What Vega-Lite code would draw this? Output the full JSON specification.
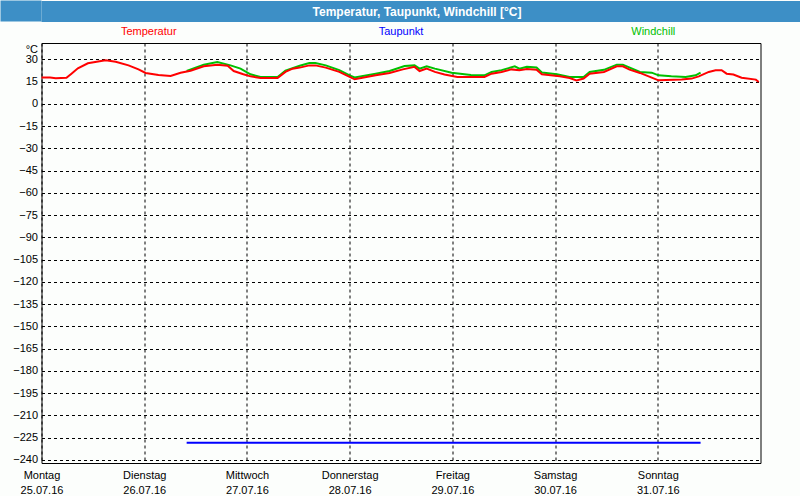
{
  "$schema": "https://vega.github.io/schema/vega-lite/v6.json",
  "background": "#fcfefc",
  "padding": {"left": -10.5, "top": 0, "right": 0, "bottom": 0},
  "spacing": 0,
  "config": {"font": "Liberation Sans", "view": {"stroke": null}},
  "datasets": {
    "messwerte": [
      {"zeit": "2016-07-26T09:55", "reihe": "Windchill", "wert": 22.3},
      {"zeit": "2016-07-26T13:55", "reihe": "Windchill", "wert": 26.5},
      {"zeit": "2016-07-26T17:05", "reihe": "Windchill", "wert": 28.3},
      {"zeit": "2016-07-26T20:10", "reihe": "Windchill", "wert": 26.0},
      {"zeit": "2016-07-26T22:30", "reihe": "Windchill", "wert": 23.8},
      {"zeit": "2016-07-27T00:50", "reihe": "Windchill", "wert": 20.0},
      {"zeit": "2016-07-27T03:10", "reihe": "Windchill", "wert": 18.2},
      {"zeit": "2016-07-27T07:10", "reihe": "Windchill", "wert": 18.2},
      {"zeit": "2016-07-27T09:00", "reihe": "Windchill", "wert": 22.5},
      {"zeit": "2016-07-27T12:20", "reihe": "Windchill", "wert": 25.8},
      {"zeit": "2016-07-27T14:35", "reihe": "Windchill", "wert": 27.6},
      {"zeit": "2016-07-27T16:00", "reihe": "Windchill", "wert": 27.6},
      {"zeit": "2016-07-27T18:25", "reihe": "Windchill", "wert": 26.0},
      {"zeit": "2016-07-27T21:35", "reihe": "Windchill", "wert": 22.8},
      {"zeit": "2016-07-28T00:00", "reihe": "Windchill", "wert": 19.2},
      {"zeit": "2016-07-28T01:10", "reihe": "Windchill", "wert": 17.8},
      {"zeit": "2016-07-28T06:05", "reihe": "Windchill", "wert": 20.4},
      {"zeit": "2016-07-28T09:20", "reihe": "Windchill", "wert": 22.2},
      {"zeit": "2016-07-28T12:50", "reihe": "Windchill", "wert": 25.6},
      {"zeit": "2016-07-28T15:10", "reihe": "Windchill", "wert": 26.0},
      {"zeit": "2016-07-28T16:20", "reihe": "Windchill", "wert": 23.8},
      {"zeit": "2016-07-28T18:00", "reihe": "Windchill", "wert": 25.4},
      {"zeit": "2016-07-28T19:55", "reihe": "Windchill", "wert": 23.8},
      {"zeit": "2016-07-28T23:50", "reihe": "Windchill", "wert": 21.1},
      {"zeit": "2016-07-29T04:20", "reihe": "Windchill", "wert": 19.5},
      {"zeit": "2016-07-29T07:30", "reihe": "Windchill", "wert": 19.3},
      {"zeit": "2016-07-29T09:10", "reihe": "Windchill", "wert": 21.6},
      {"zeit": "2016-07-29T11:30", "reihe": "Windchill", "wert": 22.8},
      {"zeit": "2016-07-29T14:35", "reihe": "Windchill", "wert": 25.4},
      {"zeit": "2016-07-29T15:40", "reihe": "Windchill", "wert": 23.8},
      {"zeit": "2016-07-29T17:25", "reihe": "Windchill", "wert": 25.0},
      {"zeit": "2016-07-29T19:40", "reihe": "Windchill", "wert": 24.6},
      {"zeit": "2016-07-29T20:55", "reihe": "Windchill", "wert": 21.2},
      {"zeit": "2016-07-30T00:25", "reihe": "Windchill", "wert": 20.0},
      {"zeit": "2016-07-30T03:25", "reihe": "Windchill", "wert": 18.2},
      {"zeit": "2016-07-30T06:40", "reihe": "Windchill", "wert": 18.2},
      {"zeit": "2016-07-30T08:05", "reihe": "Windchill", "wert": 21.6},
      {"zeit": "2016-07-30T11:25", "reihe": "Windchill", "wert": 23.0},
      {"zeit": "2016-07-30T14:25", "reihe": "Windchill", "wert": 26.5},
      {"zeit": "2016-07-30T15:50", "reihe": "Windchill", "wert": 26.5},
      {"zeit": "2016-07-30T19:50", "reihe": "Windchill", "wert": 21.6},
      {"zeit": "2016-07-30T22:35", "reihe": "Windchill", "wert": 21.1},
      {"zeit": "2016-07-31T00:10", "reihe": "Windchill", "wert": 19.3},
      {"zeit": "2016-07-31T03:10", "reihe": "Windchill", "wert": 18.6},
      {"zeit": "2016-07-31T06:30", "reihe": "Windchill", "wert": 18.2},
      {"zeit": "2016-07-31T08:50", "reihe": "Windchill", "wert": 19.3},
      {"zeit": "2016-07-31T10:00", "reihe": "Windchill", "wert": 21.1},
      {"zeit": "2016-07-26T09:55", "reihe": "Taupunkt", "wert": -228.6},
      {"zeit": "2016-07-27T00:00", "reihe": "Taupunkt", "wert": -228.6},
      {"zeit": "2016-07-28T00:00", "reihe": "Taupunkt", "wert": -228.6},
      {"zeit": "2016-07-29T00:00", "reihe": "Taupunkt", "wert": -228.6},
      {"zeit": "2016-07-30T00:00", "reihe": "Taupunkt", "wert": -228.6},
      {"zeit": "2016-07-31T00:00", "reihe": "Taupunkt", "wert": -228.6},
      {"zeit": "2016-07-31T10:00", "reihe": "Taupunkt", "wert": -228.6},
      {"zeit": "2016-07-25T00:00", "reihe": "Temperatur", "wert": 17.9},
      {"zeit": "2016-07-25T02:00", "reihe": "Temperatur", "wert": 17.8},
      {"zeit": "2016-07-25T03:20", "reihe": "Temperatur", "wert": 17.4},
      {"zeit": "2016-07-25T05:50", "reihe": "Temperatur", "wert": 17.6},
      {"zeit": "2016-07-25T07:00", "reihe": "Temperatur", "wert": 20.4},
      {"zeit": "2016-07-25T08:30", "reihe": "Temperatur", "wert": 24.0},
      {"zeit": "2016-07-25T10:50", "reihe": "Temperatur", "wert": 27.4},
      {"zeit": "2016-07-25T13:55", "reihe": "Temperatur", "wert": 29.0},
      {"zeit": "2016-07-25T15:00", "reihe": "Temperatur", "wert": 29.4},
      {"zeit": "2016-07-25T17:20", "reihe": "Temperatur", "wert": 28.5},
      {"zeit": "2016-07-25T20:20", "reihe": "Temperatur", "wert": 26.0},
      {"zeit": "2016-07-25T22:40", "reihe": "Temperatur", "wert": 23.3},
      {"zeit": "2016-07-26T00:20", "reihe": "Temperatur", "wert": 20.9},
      {"zeit": "2016-07-26T03:20", "reihe": "Temperatur", "wert": 19.5},
      {"zeit": "2016-07-26T06:10", "reihe": "Temperatur", "wert": 18.8},
      {"zeit": "2016-07-26T08:30", "reihe": "Temperatur", "wert": 21.0},
      {"zeit": "2016-07-26T10:50", "reihe": "Temperatur", "wert": 22.4},
      {"zeit": "2016-07-26T13:55", "reihe": "Temperatur", "wert": 25.4},
      {"zeit": "2016-07-26T17:05", "reihe": "Temperatur", "wert": 26.5},
      {"zeit": "2016-07-26T19:30", "reihe": "Temperatur", "wert": 25.8},
      {"zeit": "2016-07-26T20:55", "reihe": "Temperatur", "wert": 22.2},
      {"zeit": "2016-07-26T23:10", "reihe": "Temperatur", "wert": 20.0},
      {"zeit": "2016-07-27T00:50", "reihe": "Temperatur", "wert": 18.6},
      {"zeit": "2016-07-27T03:10", "reihe": "Temperatur", "wert": 17.5},
      {"zeit": "2016-07-27T07:10", "reihe": "Temperatur", "wert": 17.5},
      {"zeit": "2016-07-27T09:00", "reihe": "Temperatur", "wert": 21.6},
      {"zeit": "2016-07-27T10:40", "reihe": "Temperatur", "wert": 23.8},
      {"zeit": "2016-07-27T12:20", "reihe": "Temperatur", "wert": 24.5},
      {"zeit": "2016-07-27T14:35", "reihe": "Temperatur", "wert": 26.0},
      {"zeit": "2016-07-27T16:00", "reihe": "Temperatur", "wert": 26.0},
      {"zeit": "2016-07-27T18:25", "reihe": "Temperatur", "wert": 24.5},
      {"zeit": "2016-07-27T21:35", "reihe": "Temperatur", "wert": 21.6},
      {"zeit": "2016-07-28T00:00", "reihe": "Temperatur", "wert": 18.2},
      {"zeit": "2016-07-28T01:10", "reihe": "Temperatur", "wert": 16.6},
      {"zeit": "2016-07-28T03:00", "reihe": "Temperatur", "wert": 17.7},
      {"zeit": "2016-07-28T06:05", "reihe": "Temperatur", "wert": 19.3},
      {"zeit": "2016-07-28T09:20", "reihe": "Temperatur", "wert": 20.9},
      {"zeit": "2016-07-28T12:25", "reihe": "Temperatur", "wert": 23.3},
      {"zeit": "2016-07-28T15:10", "reihe": "Temperatur", "wert": 25.0},
      {"zeit": "2016-07-28T16:20", "reihe": "Temperatur", "wert": 22.2},
      {"zeit": "2016-07-28T18:00", "reihe": "Temperatur", "wert": 23.8},
      {"zeit": "2016-07-28T19:55", "reihe": "Temperatur", "wert": 21.6},
      {"zeit": "2016-07-28T22:10", "reihe": "Temperatur", "wert": 19.8},
      {"zeit": "2016-07-29T01:10", "reihe": "Temperatur", "wert": 18.2},
      {"zeit": "2016-07-29T07:30", "reihe": "Temperatur", "wert": 18.2},
      {"zeit": "2016-07-29T09:10", "reihe": "Temperatur", "wert": 20.4},
      {"zeit": "2016-07-29T11:30", "reihe": "Temperatur", "wert": 21.6},
      {"zeit": "2016-07-29T13:50", "reihe": "Temperatur", "wert": 23.3},
      {"zeit": "2016-07-29T15:40", "reihe": "Temperatur", "wert": 22.7},
      {"zeit": "2016-07-29T17:25", "reihe": "Temperatur", "wert": 23.5},
      {"zeit": "2016-07-29T19:40", "reihe": "Temperatur", "wert": 23.1},
      {"zeit": "2016-07-29T20:55", "reihe": "Temperatur", "wert": 20.0},
      {"zeit": "2016-07-30T01:05", "reihe": "Temperatur", "wert": 18.6},
      {"zeit": "2016-07-30T03:25", "reihe": "Temperatur", "wert": 17.5},
      {"zeit": "2016-07-30T05:00", "reihe": "Temperatur", "wert": 15.9},
      {"zeit": "2016-07-30T06:40", "reihe": "Temperatur", "wert": 17.1},
      {"zeit": "2016-07-30T08:05", "reihe": "Temperatur", "wert": 20.4},
      {"zeit": "2016-07-30T11:25", "reihe": "Temperatur", "wert": 21.6},
      {"zeit": "2016-07-30T14:25", "reihe": "Temperatur", "wert": 25.4},
      {"zeit": "2016-07-30T15:50", "reihe": "Temperatur", "wert": 25.4},
      {"zeit": "2016-07-30T17:25", "reihe": "Temperatur", "wert": 23.1},
      {"zeit": "2016-07-30T19:50", "reihe": "Temperatur", "wert": 20.9},
      {"zeit": "2016-07-30T22:35", "reihe": "Temperatur", "wert": 17.7},
      {"zeit": "2016-07-31T00:10", "reihe": "Temperatur", "wert": 15.9},
      {"zeit": "2016-07-31T05:35", "reihe": "Temperatur", "wert": 16.4},
      {"zeit": "2016-07-31T07:55", "reihe": "Temperatur", "wert": 17.1},
      {"zeit": "2016-07-31T09:35", "reihe": "Temperatur", "wert": 18.6},
      {"zeit": "2016-07-31T11:55", "reihe": "Temperatur", "wert": 21.6},
      {"zeit": "2016-07-31T13:30", "reihe": "Temperatur", "wert": 22.7},
      {"zeit": "2016-07-31T14:55", "reihe": "Temperatur", "wert": 22.7},
      {"zeit": "2016-07-31T16:05", "reihe": "Temperatur", "wert": 20.4},
      {"zeit": "2016-07-31T17:40", "reihe": "Temperatur", "wert": 19.8},
      {"zeit": "2016-07-31T19:35", "reihe": "Temperatur", "wert": 17.7},
      {"zeit": "2016-07-31T22:55", "reihe": "Temperatur", "wert": 16.4},
      {"zeit": "2016-07-31T23:35", "reihe": "Temperatur", "wert": 14.8}
    ]
  },
  "vconcat": [
    {
      "width": 759,
      "height": 21,
      "view": {"fill": "#3d8fc6", "stroke": null},
      "data": {"values": [{"titel": "Temperatur, Taupunkt, Windchill [°C]"}]},
      "mark": {"type": "text", "color": "#ffffff", "fontWeight": "bold", "fontSize": 12, "dx": -4},
      "encoding": {
        "text": {"field": "titel"},
        "y": {
          "field": "titel",
          "type": "nominal",
          "scale": {"type": "band", "paddingInner": 0, "paddingOuter": 0},
          "axis": {"title": null, "labels": false, "domain": false, "grid": false, "translate": 0, "ticks": true, "tickRound": false, "tickBand": "center", "tickSize": 41, "tickWidth": 21, "tickColor": "#3d8fc6", "tickCap": "butt", "tickOpacity": 1}
        }
      }
    },
    {
      "width": 719,
      "height": 20,
      "view": {"stroke": null},
      "data": {"values": [{"reihe": "Temperatur"}, {"reihe": "Taupunkt"}, {"reihe": "Windchill"}]},
      "mark": {"type": "text", "fontSize": 11},
      "encoding": {
        "x": {"field": "reihe", "type": "nominal", "sort": null, "scale": {"type": "point", "padding": 0.425}, "axis": null},
        "text": {"field": "reihe"},
        "color": {
          "field": "reihe",
          "type": "nominal",
          "scale": {"domain": ["Temperatur", "Taupunkt", "Windchill"], "range": ["#ff0000", "#0000ff", "#00c000"]},
          "legend": null
        }
      }
    },
    {
      "width": 719,
      "height": 420,
      "view": {"stroke": "#000000", "strokeWidth": 1},
      "data": {"name": "messwerte"},
      "mark": {"type": "line", "strokeWidth": 2},
      "encoding": {
        "x": {
          "field": "zeit",
          "type": "temporal",
          "scale": {"domain": [{"year": 2016, "month": 7, "date": 25}, {"year": 2016, "month": 8, "date": 1}], "nice": false},
          "axis": {
            "title": null,
            "values": [
              {"year": 2016, "month": 7, "date": 25},
              {"year": 2016, "month": 7, "date": 26},
              {"year": 2016, "month": 7, "date": 27},
              {"year": 2016, "month": 7, "date": 28},
              {"year": 2016, "month": 7, "date": 29},
              {"year": 2016, "month": 7, "date": 30},
              {"year": 2016, "month": 7, "date": 31}
            ],
            "labelExpr": "[['Sonntag','Montag','Dienstag','Mittwoch','Donnerstag','Freitag','Samstag'][day(datum.value)], timeFormat(datum.value, '%d.%m.%y')]",
            "labelAlign": "center",
            "labelBaseline": "top",
            "labelFlush": false,
            "labelOverlap": false,
            "labelPadding": 6,
            "labelLineHeight": 15,
            "labelFontSize": 11,
            "labelColor": "#000000",
            "ticks": false,
            "domain": false,
            "grid": true,
            "gridColor": "#000000",
            "gridDash": [3, 3],
            "gridOpacity": 1
          }
        },
        "y": {
          "field": "wert",
          "type": "quantitative",
          "scale": {"domain": [-242.2, 41.1], "nice": false, "zero": false},
          "axis": {
            "values": [-240, -225, -210, -195, -180, -165, -150, -135, -120, -105, -90, -75, -60, -45, -30, -15, 0, 15, 30],
            "title": "°C",
            "titleAngle": 0,
            "titleAlign": "right",
            "titleBaseline": "top",
            "titleX": -4,
            "titleY": 0,
            "titleFontWeight": "normal",
            "titleFontSize": 11,
            "titleColor": "#000000",
            "labelFontSize": 11,
            "labelColor": "#000000",
            "labelPadding": 4,
            "labelOverlap": false,
            "labelFlush": false,
            "minExtent": 41,
            "ticks": false,
            "domain": false,
            "grid": true,
            "gridColor": "#000000",
            "gridDash": [3, 3],
            "gridOpacity": 1
          }
        },
        "color": {
          "field": "reihe",
          "type": "nominal",
          "scale": {"domain": ["Temperatur", "Taupunkt", "Windchill"], "range": ["#ff0000", "#0000ff", "#00c000"]},
          "legend": null
        }
      }
    }
  ]
}
